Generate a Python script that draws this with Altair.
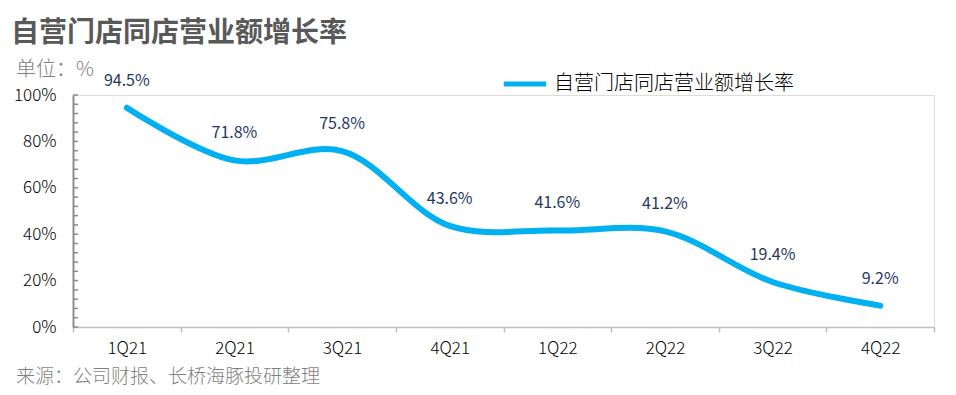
import altair as alt
import pandas as pd

quarters = ["1Q21", "2Q21", "3Q21", "4Q21", "1Q22", "2Q22", "3Q22", "4Q22"]
growth = [94.5, 71.8, 75.8, 43.6, 41.6, 41.2, 19.4, 9.2]
series_name = "自营门店同店营业额增长率"
y_ticks = [0, 20, 40, 60, 80, 100]
minor_ticks = list(range(0, 101, 4))

FONT = "Noto Sans CJK SC"

df = pd.DataFrame({"q": quarters, "v": growth, "s": [series_name] * len(quarters)})
df["label"] = [f"{v:.1f}%" for v in growth]
ticks_df = pd.DataFrame({"t": minor_ticks})

W, H = 861, 232

x_enc = alt.X("q:N", sort=quarters, scale=alt.Scale(paddingInner=0, paddingOuter=0),
              axis=alt.Axis(title=None, tickBand="extent", labelAngle=0, labelFontSize=17,
                            labelFontWeight=300,
                            labelColor="#000000", labelFont=FONT, domainColor="#BFBFBF",
                            domainWidth=1.5, tickColor="#BFBFBF", tickSize=5, tickWidth=1.5,
                            labelPadding=8, grid=False))
y_scale = alt.Scale(domain=[0, 100], nice=False)

line = alt.Chart(df).mark_line(interpolate="catmull-rom", strokeWidth=6, strokeCap="round").encode(
    x=x_enc,
    y=alt.Y("v:Q", scale=y_scale,
            axis=alt.Axis(title=None, values=y_ticks, labelExpr="datum.value + '%'",
                          labelFontSize=17, labelFontWeight=300, labelColor="#000000",
                          labelFont=FONT, ticks=False, labelPadding=17, domainColor="#8C8C8C",
                          domainWidth=2, grid=False)),
    color=alt.Color("s:N", scale=alt.Scale(range=["#00B0F0"]),
                    legend=alt.Legend(title=None, orient="none", legendX=428, legendY=-35,
                                      symbolType="stroke", symbolStrokeWidth=5, symbolSize=1800,
                                      labelFontSize=20, labelFont=FONT, labelColor="#000000",
                                      labelFontWeight=300, labelLimit=0, labelOffset=5)),
)

labels = alt.Chart(df).mark_text(dy=-27, fontSize=16, font=FONT, fontWeight=400,
                                 color="#1F3864").encode(
    x=alt.X("q:N", sort=quarters), y=alt.Y("v:Q", scale=y_scale), text="label:N"
)

minor = alt.Chart(ticks_df).mark_rule(color="#8C8C8C", strokeWidth=1.5).encode(
    y=alt.Y("t:Q", scale=y_scale), x=alt.value(0), x2=alt.value(5)
)

title = alt.Chart(pd.DataFrame({"t": [series_name]})).mark_text(
    align="left", baseline="middle", fontSize=28, fontWeight="bold", font=FONT, color="#595959"
).encode(text="t:N", x=alt.value(-62), y=alt.value(-61))

unit = alt.Chart(pd.DataFrame({"t": ["单位：%"]})).mark_text(
    align="left", baseline="middle", fontSize=20, font=FONT, fontWeight=300, color="#7F7F7F"
).encode(text="t:N", x=alt.value(-57), y=alt.value(-25))

source = alt.Chart(pd.DataFrame({"t": ["来源：公司财报、长桥海豚投研整理"]})).mark_text(
    align="left", baseline="middle", fontSize=19, font=FONT, fontWeight=300, color="#7F7F7F"
).encode(text="t:N", x=alt.value(-57), y=alt.value(282))

chart = alt.layer(minor, line, labels, title, unit, source).resolve_scale(x="shared", y="shared").properties(
    width=W, height=H,
    autosize=alt.AutoSizeParams(type="none"),
    padding={"left": 65, "top": 87, "right": 14, "bottom": 60},
).configure_view(stroke=None).configure(background="white")

chart.save("out.html", embed_options={"renderer": "svg", "actions": False})
